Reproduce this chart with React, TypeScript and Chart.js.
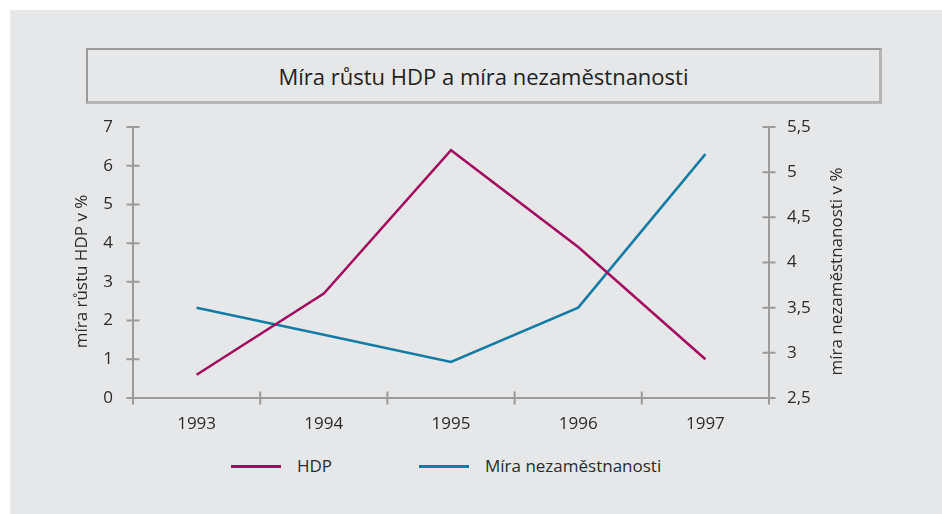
import React, { useEffect, useRef } from "react";
import { Chart, registerables } from "chart.js";

Chart.register(...registerables);

const years = ["1993", "1994", "1995", "1996", "1997"];
const hdpValues = [0.6, 2.7, 6.4, 3.9, 1.0];
const unemploymentValues = [3.5, 3.2, 2.9, 3.5, 5.2];
const titleText = "Míra růstu HDP a míra nezaměstnanosti";
const leftAxisTitle = "míra růstu HDP v %";
const rightAxisTitle = "míra nezaměstnanosti v %";
const seriesNames = ["HDP", "Míra nezaměstnanosti"];

const HDP_COLOR = "#a3095f";
const UNEMP_COLOR = "#127ca5";
const AXIS_COLOR = "#9b9b9b";
const TEXT_COLOR = "#2b2b2b";
const BG = "#e6e7e9";
const FONT = "'Open Sans', Lato, sans-serif";
const WEIGHT = 400;

const crossTicks = {
  id: "crossTicks",
  afterDraw(chart: any) {
    const ctx = chart.ctx;
    const { x, y, y2 } = chart.scales;
    ctx.save();
    ctx.strokeStyle = AXIS_COLOR;
    ctx.lineWidth = 2;
    const half = 6.5;
    ctx.beginPath();
    for (let i = 0; i <= years.length; i++) {
      const px = x.getPixelForValue(i - 0.5);
      ctx.moveTo(px, x.top - half);
      ctx.lineTo(px, x.top + half);
    }
    y.ticks.forEach((_t: any, i: number) => {
      const py = y.getPixelForTick(i);
      ctx.moveTo(y.right - half, py);
      ctx.lineTo(y.right + half, py);
    });
    y2.ticks.forEach((_t: any, i: number) => {
      const py = y2.getPixelForTick(i);
      ctx.moveTo(y2.left - half, py);
      ctx.lineTo(y2.left + half, py);
    });
    ctx.stroke();

    // vertical axis titles, both reading bottom-to-top
    ctx.fillStyle = TEXT_COLOR;
    ctx.font = `${WEIGHT} 17px ${FONT}`;
    ctx.textAlign = "center";
    ctx.textBaseline = "middle";
    const midY = (y.top + y.bottom) / 2 + 9;
    const drawV = (text: string, cx: number) => {
      ctx.save();
      ctx.translate(cx, midY);
      ctx.rotate(-Math.PI / 2);
      ctx.fillText(text, 0, 0);
      ctx.restore();
    };
    drawV(leftAxisTitle, y.left + 72);
    drawV(rightAxisTitle, y2.left + 68);
    ctx.restore();
  },
};

const trimPad = (s: any) => {
  s.paddingTop = 10;
  s.paddingBottom = 10;
};

export default function App() {
  const ref = useRef<HTMLCanvasElement>(null);
  useEffect(() => {
    if (!ref.current) return;
    const tickFont = { family: FONT, size: 17, weight: WEIGHT as any };
    const chart = new Chart(ref.current, {
      type: "line",
      data: {
        labels: years,
        datasets: [
          {
            label: seriesNames[0],
            data: hdpValues,
            borderColor: HDP_COLOR,
            backgroundColor: HDP_COLOR,
            borderWidth: 2.5,
            pointRadius: 0,
            tension: 0,
            yAxisID: "y",
          },
          {
            label: seriesNames[1],
            data: unemploymentValues,
            borderColor: UNEMP_COLOR,
            backgroundColor: UNEMP_COLOR,
            borderWidth: 2.5,
            pointRadius: 0,
            tension: 0,
            yAxisID: "y2",
          },
        ],
      },
      plugins: [crossTicks],
      options: {
        animation: false,
        responsive: false,
        maintainAspectRatio: false,
        layout: { padding: { top: 22, left: 0, right: 0, bottom: 0 } },
        plugins: {
          legend: { display: false },
          tooltip: { enabled: false },
          title: { display: false },
        },
        scales: {
          x: {
            offset: true,
            grid: { display: false, drawTicks: false },
            border: { display: true, color: AXIS_COLOR, width: 2 },
            ticks: {
              color: TEXT_COLOR,
              font: tickFont,
              padding: 16,
              maxRotation: 0,
            },
            afterFit: (s: any) => {
              s.height = 52;
            },
          },
          y: {
            position: "left",
            min: 0,
            max: 7,
            grid: { display: false, drawTicks: false },
            border: { display: true, color: AXIS_COLOR, width: 2 },
            ticks: {
              stepSize: 1,
              color: TEXT_COLOR,
              font: tickFont,
              padding: 20,
            },
            afterFit: (s: any) => {
              s.width = 123;
              trimPad(s);
            },
          },
          y2: {
            position: "right",
            min: 2.5,
            max: 5.5,
            grid: { display: false, drawTicks: false },
            border: { display: true, color: AXIS_COLOR, width: 2 },
            ticks: {
              stepSize: 0.5,
              color: TEXT_COLOR,
              font: tickFont,
              padding: 18,
              callback: (v: any) => String(v).replace(".", ","),
            },
            afterFit: (s: any) => {
              s.width = 141;
              trimPad(s);
            },
          },
        },
      },
    });
    return () => chart.destroy();
  }, []);

  const legendItem = (lineLeft: number, color: string, text: string) => (
    <>
      <div
        style={{
          position: "absolute",
          left: lineLeft,
          top: 465,
          width: 50,
          height: 3,
          background: color,
        }}
      />
      <div
        style={{
          position: "absolute",
          left: lineLeft + 66,
          top: 454,
          height: 24,
          lineHeight: "24px",
          fontFamily: FONT,
          fontWeight: WEIGHT,
          fontSize: 17,
          color: TEXT_COLOR,
          whiteSpace: "nowrap",
        }}
      >
        {text}
      </div>
    </>
  );

  return (
    <div>
      <div
        style={{
          position: "absolute",
          left: 10,
          top: 10,
          width: 932,
          height: 504,
          background: BG,
        }}
      />
      <div
        style={{
          position: "absolute",
          left: 86,
          top: 48,
          width: 791,
          height: 51,
          borderTop: "2px solid #999",
          borderLeft: "2px solid #999",
          borderRight: "3px solid #b4b4b4",
          borderBottom: "3px solid #b4b4b4",
          display: "flex",
          alignItems: "center",
          justifyContent: "center",
          fontFamily: FONT,
          fontWeight: WEIGHT,
          fontSize: 22,
          color: "#222",
        }}
      >
        {titleText}
      </div>
      <canvas
        ref={ref}
        width={900}
        height={345}
        style={{ position: "absolute", left: 10, top: 105, width: 900, height: 345 }}
      />
      {legendItem(231, HDP_COLOR, seriesNames[0])}
      {legendItem(419, UNEMP_COLOR, seriesNames[1])}
    </div>
  );
}
